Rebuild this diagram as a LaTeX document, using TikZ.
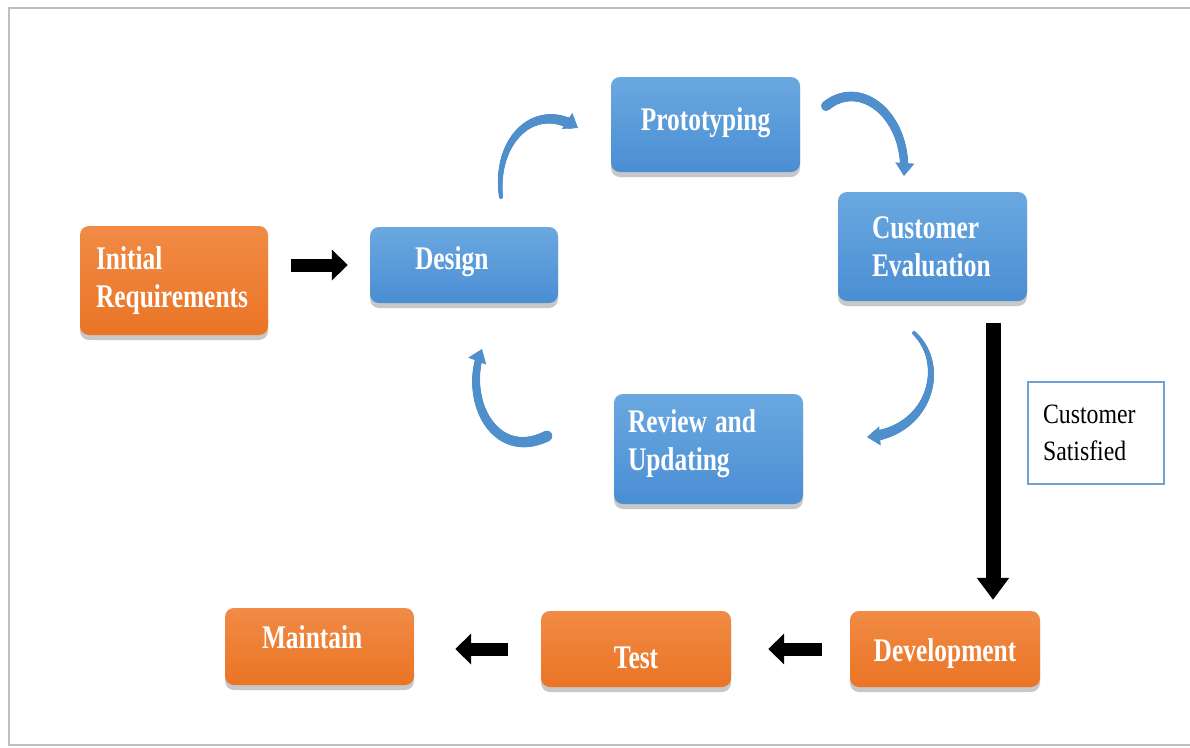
\documentclass[tikz,border=0pt]{standalone}
\usepackage{fontspec}
\setmainfont{Liberation Serif}
\newfontfamily\boxfont[FakeStretch=0.77]{Liberation Serif}
\newfontfamily\satfont[FakeStretch=0.85]{Liberation Serif}
\usetikzlibrary{arrows.meta,shadows,decorations.markings}
\definecolor{bluetop}{HTML}{6AA8E0}
\definecolor{bluebot}{HTML}{4A8ED3}
\definecolor{orangetop}{HTML}{F18B45}
\definecolor{orangebot}{HTML}{EA7425}
\definecolor{arrowblue}{HTML}{4E8FCC}
\definecolor{satblue}{HTML}{6FA3D8}
\begin{document}
\begin{tikzpicture}[x=1pt,y=-1pt,
  boxbase/.style={rounded corners=9pt, inner ysep=0pt, text=white,
    font=\boxfont\bfseries\fontsize{33}{38}\selectfont,
    drop shadow={shadow xshift=0pt,shadow yshift=-5pt,opacity=0.3,fill=black!70}},
  bluebox/.style={boxbase, top color=bluetop, bottom color=bluebot},
  orangebox/.style={boxbase, top color=orangetop, bottom color=orangebot},
  blockarrow/.style={line width=13pt, -{Triangle[length=16pt,width=30pt]}},
  vblockarrow/.style={line width=15pt, -{Triangle[length=22pt,width=31pt]}},
  taper/.style 2 args={decoration={markings,
    mark=between positions 0 and -9pt step 0.8pt with {%
      \pgfmathsetmacro\tr{#1+(#2-#1)*\pgfkeysvalueof{/pgf/decoration/mark info/distance from start}/\pgfdecoratedpathlength}%
      \fill[arrowblue] (0,0) circle[radius=\tr pt];}},
    decorate},
  curvehead/.style={arrowblue, line width=1pt, -{Triangle[length=13pt,width=19pt]}},
]
\useasboundingbox (0,0) rectangle (1190,747);
\fill[white] (0,0) rectangle (1190,747);
\draw[black!25, line width=1.5pt] (9,8) rectangle (1194,745);

% boxes
\node[orangebox, minimum height=109pt, inner xsep=16pt, text width=156pt, align=left] (init) at (174,280.5) {Initial\\Requirements};
\node[bluebox, minimum height=76pt, inner xsep=45pt, text width=98pt, align=left, text height=22pt, text depth=14pt] (design) at (464,265) {Design};
\node[bluebox, minimum height=95pt, inner xsep=0pt, text width=189pt, align=center, text height=22pt, text depth=11pt] (proto) at (705.5,124.5) {Prototyping};
\node[bluebox, minimum height=109pt, inner xsep=34pt, text width=121pt, align=left] (eval) at (932.5,246.5) {Customer\\Evaluation};
\node[bluebox, minimum height=110pt, inner xsep=14pt, text width=161pt, align=left, text depth=55pt] (review) at (708.5,449) {Review\hspace{8pt}and\\Updating};
\node[orangebox, minimum height=77pt, inner xsep=37pt, text width=115pt, align=left, text height=22pt, text depth=19pt] (maint) at (319.5,646.5) {Maintain};
\node[orangebox, minimum height=76pt, inner xsep=0pt, text width=190pt, align=center, text height=40pt, text depth=2pt] (test) at (636,649) {Test};
\node[orangebox, minimum height=76pt, inner xsep=0pt, text width=190pt, align=center, text height=30pt, text depth=6pt] (dev) at (945,649) {Development};
\node[draw=satblue, line width=1.2pt, fill=white, minimum height=102pt, inner xsep=15pt, inner ysep=0pt, text width=106pt, align=left, font=\satfont\fontsize{28}{37}\selectfont] (sat) at (1096,433) {Customer\\Satisfied};

% black block arrows
\draw[blockarrow, shorten <=23pt, shorten >=22pt] (init.east |- design.west) -- (design.west);
\draw[vblockarrow, shorten <=22pt, shorten >=11pt] ([xshift=60.5pt]eval.south) -- ([xshift=48pt]dev.north);
\draw[blockarrow, shorten <=28pt, shorten >=37pt] (dev.west) -- (test.east |- dev.west);
\draw[blockarrow, shorten <=33pt, shorten >=41pt] (test.west) -- (maint.east |- test.west);

% curved blue arrows
\coordinate (a1s) at (501,197); \coordinate (a1e) at (578,128);
\coordinate (a2s) at (826,106); \coordinate (a2e) at (904,176);
\coordinate (a3s) at (914,333); \coordinate (a3e) at (867,437);
\coordinate (a4s) at (547,436); \coordinate (a4e) at (482,349);
\path[taper={2}{5.5}] (a1s) .. controls (494,140) and (535,100) .. (a1e);
\draw[curvehead] (a1s) .. controls (494,140) and (535,100) .. (a1e);
\path[taper={5}{4}] (a2s) .. controls (860,78) and (908,115) .. (a2e);
\draw[curvehead] (a2s) .. controls (860,78) and (908,115) .. (a2e);
\path[taper={2}{5.5}] (a3s) .. controls (948,365) and (930,432) .. (a3e);
\draw[curvehead] (a3s) .. controls (948,365) and (930,432) .. (a3e);
\path[taper={5.5}{3.5}] (a4s) .. controls (495,462) and (462,400) .. (a4e);
\draw[curvehead] (a4s) .. controls (495,462) and (462,400) .. (a4e);
\end{tikzpicture}
\end{document}
